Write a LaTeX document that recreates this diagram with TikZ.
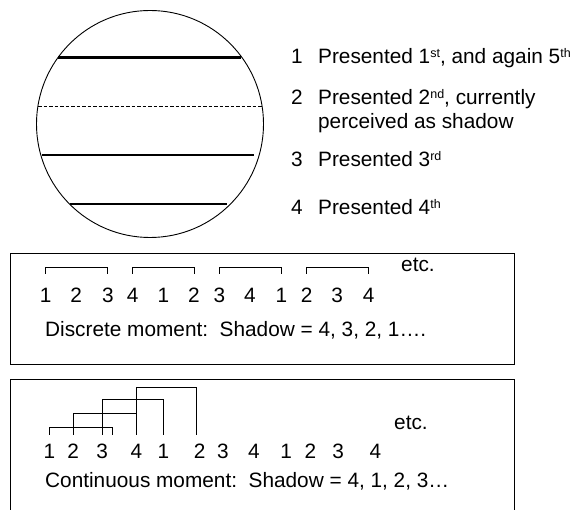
\documentclass[tikz,border=0pt]{standalone}
\usepackage{fontspec}
\setsansfont{Liberation Sans}
\usepackage{tikz}
\usetikzlibrary{positioning,calc}

% small raised ordinal suffix
\newcommand\ordsup[1]{\raisebox{5.5pt}{\fontsize{12.5}{12.5}\selectfont #1}}

\begin{document}
\begin{tikzpicture}[
  x=1pt, y=-1pt,
  txt/.style={font=\fontsize{20.8}{24}\selectfont\sffamily, inner sep=0pt, anchor=base west},
  digit/.style={font=\fontsize{20.8}{24}\selectfont\sffamily, inner sep=0pt, anchor=base},
  frame/.style={line width=0.9pt},
  bar/.style={line width=2.6pt},
  brk/.style={line width=0.9pt},
]
\useasboundingbox (0,0) rectangle (582,510);

% Disc with the presented lines
\draw[frame] (150,124) circle[radius=113.5];
\draw[bar] (58,57.3) -- (241,57.3);
\draw[frame, dash pattern=on 3.5pt off 2pt] (38,106) -- (262,106);
\draw[bar] (42,155) -- (254,155);
\draw[bar] (70,204) -- (227,204);

% Legend on the right
\foreach \n/\y in {1/63.3, 2/104.5, 3/166.5, 4/214.3}
  \node[txt] (num\n) at (291,\y) {\n};
\node[txt, base right=15pt of num1] (lab1) {Presented 1\ordsup{st}, and again 5\ordsup{th}};
\node[txt, align=left] (lab2) at ($(num2.base east)+(15pt,-24pt)$)
  {Presented 2\ordsup{nd}, currently\\perceived as shadow};
\node[txt, base right=15pt of num3] (lab3) {Presented 3\ordsup{rd}};
\node[txt, base right=15pt of num4] (lab4) {Presented 4\ordsup{th}};

% Discrete moment box
\draw[frame] (10,253.3) rectangle (514,364.3);
\foreach \d/\x [count=\i] in {1/45.7, 2/76.2, 3/107.8, 4/132.7, 1/163.5, 2/194,
                              3/219.3, 4/249.8, 1/281.4, 2/306.6, 3/337.1, 4/368.7}
  \node[digit] (a\i) at (\x,303) {\d};
\foreach \l/\r in {1/3, 4/6, 7/9, 10/12}
  \draw[brk] ([yshift=29pt]a\l.base) |- ([yshift=35.5pt]a\r.base) -- ([yshift=29pt]a\r.base);
\node[txt] (etcA) at (401,271.5) {etc.};
\node[txt] (capA) at (45,337) {Discrete moment:\ \ Shadow = 4, 3, 2, 1….};

% Continuous moment box (runs off the bottom)
\draw[frame] (10,512) -- (10,379) -- (514,379) -- (514,512);
\foreach \d/\x [count=\i] in {1/49.4, 2/73.2, 3/102.2, 4/136.4, 1/163.5, 2/199.6,
                              3/223, 4/253.8, 1/286.2, 2/310.3, 3/338.2, 4/375.4}
  \node[digit] (b\i) at (\x,459) {\d};
\foreach \l/\r/\h/\s in {1/3/31.7/10.5, 2/4/45.3/0, 3/5/59.7/0, 4/6/71.3/-3}
  \draw[brk] ([yshift=24pt]b\l.base) |- ([xshift=\s pt,yshift=\h pt]b\r.base)
    -- ([xshift=\s pt,yshift=24pt]b\r.base);
\node[txt] (etcB) at (394,430) {etc.};
\node[txt] (capB) at (45,488) {Continuous moment:\ \ Shadow = 4, 1, 2, 3…};

\end{tikzpicture}
\end{document}
